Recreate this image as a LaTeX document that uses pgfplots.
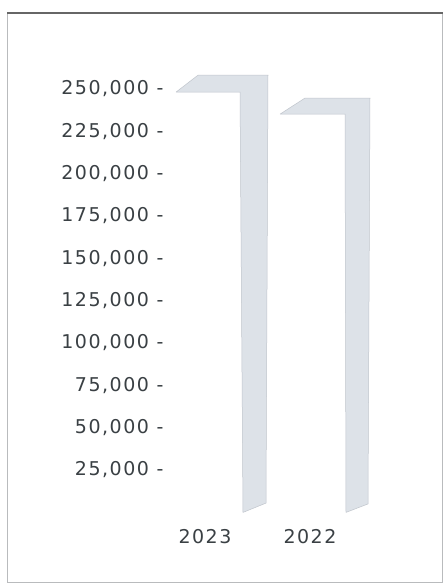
\documentclass[border=0pt]{standalone}
\usepackage{fontspec}
\setmainfont{DejaVu Sans}[LetterSpace=8]
\usepackage{pgfplots}
\pgfplotsset{compat=1.18}
\definecolor{labelc}{RGB}{58,64,68}
\definecolor{barfill}{RGB}{221,226,232}
\definecolor{baredge}{RGB}{192,197,204}
\definecolor{framec}{RGB}{185,187,189}
\begin{document}
\begin{tikzpicture}
\path[use as bounding box] (0pt,0pt) rectangle (443pt,584pt);
\fill[white] (0pt,0pt) rectangle (443pt,584pt);
\draw[framec, line width=0.8pt] (7pt,2pt) rectangle (442pt,571pt);
\draw[gray!80!black, line width=1.2pt] (7pt,571pt) -- (443pt,571pt);
\begin{axis}[
  at={(170pt,71.6pt)}, anchor=south west,
  scale only axis, width=230pt, height=440.6pt,
  xmin=170, xmax=400, ymin=0, ymax=260000,
  scaled y ticks=false,
  axis line style={draw=none},
  major tick length=0pt,
  xtick={205,310}, xticklabels={2023,2022},
  ytick={25000,50000,75000,100000,125000,150000,175000,200000,225000,250000},
  yticklabels={25{,}000 -,50{,}000 -,75{,}000 -,100{,}000 -,125{,}000 -,150{,}000 -,175{,}000 -,200{,}000 -,225{,}000 -,250{,}000 -},
  ticklabel style={font=\fontsize{19}{22}\selectfont, text=labelc},
  xticklabel style={yshift=-13pt},
  yticklabel style={xshift=-3pt},
  clip=false,
]
% 2023: value 248000, depth 10000
\addplot[fill=barfill, draw=baredge, line width=0.5pt] coordinates {
  (176,248000) (198,258000) (268,258000) (266,5500) (243,0) (240,248000) (176,248000)};
% 2022: value 235000, depth 9500
\addplot[fill=barfill, draw=baredge, line width=0.5pt] coordinates {
  (280,235000) (305,244500) (370,244500) (368,5000) (346,0) (345,235000) (280,235000)};
\end{axis}
\end{tikzpicture}
\end{document}
